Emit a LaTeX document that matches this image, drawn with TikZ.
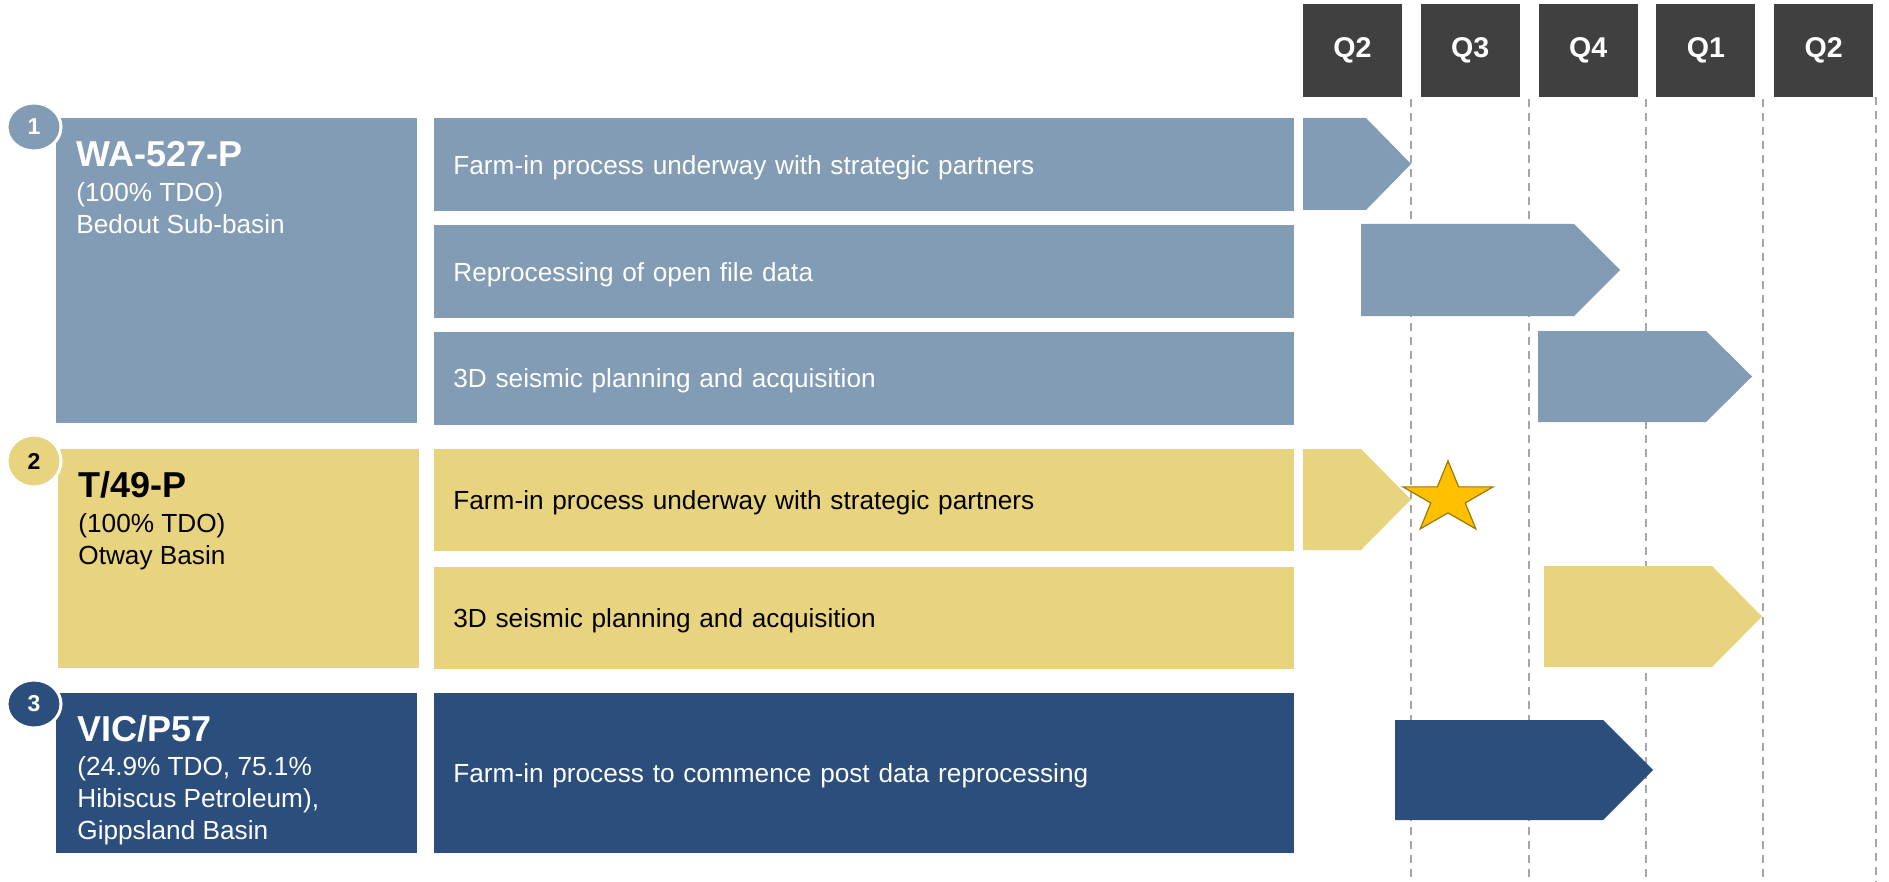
\documentclass[tikz,border=0pt]{standalone}
\usepackage{fontspec}
\setmainfont{Liberation Sans}
\usepackage{tikz}
\usetikzlibrary{positioning}
\usetikzlibrary{shapes.geometric}

\definecolor{wablue}{HTML}{819CB4}
\definecolor{otyellow}{HTML}{E8D47E}
\definecolor{vicnavy}{HTML}{2B4E7C}
\definecolor{qgray}{HTML}{404040}
\definecolor{linegray}{HTML}{A6A6A6}
\definecolor{stargold}{HTML}{FFC000}
\definecolor{staredge}{HTML}{9C7800}

\begin{document}
\begin{tikzpicture}[x=0.5pt,y=-0.5pt,
    qbox/.style={fill=qgray,text=white,font=\fontsize{14.3}{16}\selectfont\bfseries,minimum width=49.5pt,minimum height=46.5pt,inner sep=0pt},
    permit/.style={anchor=north west,minimum width=180.5pt,inner sep=0pt},
    permittxt/.style={anchor=north west,inner sep=0pt,align=left,font=\fontsize{13.1}{16}\selectfont},
    task/.style={anchor=north west,inner xsep=9.5pt,inner ysep=0pt,text width=411pt,align=left,text depth=0pt,font=\fontsize{13.1}{16}\selectfont},
    num/.style={ellipse,draw=white,line width=1.5pt,minimum width=27pt,minimum height=24pt,inner sep=0pt,font=\fontsize{11.5}{13}\selectfont\bfseries},
    qline/.style={linegray,line width=1pt,dash pattern=on 4pt off 3pt}]
    \useasboundingbox (0,0) rectangle (1889,882);

    \node[qbox] (qa) at (1352.5,50.5) {Q2};
    \node[qbox,right=9pt of qa] (qb) {Q3};
    \node[qbox,right=9pt of qb] (qc) {Q4};
    \node[qbox,right=9pt of qc] (qd) {Q1};
    \node[qbox,right=9pt of qd] (qe) {Q2};

    \draw[qline] (1411,99) -- (1411,882);
    \draw[qline] (1529,99) -- (1529,882);
    \draw[qline] (1646,99) -- (1646,882);
    \draw[qline] (1763,99) -- (1763,882);
    \draw[qline] (1876,97) -- (1876,882);

    \node[permit,fill=wablue,minimum height=152.5pt] (wa) at (56,118) {};
    \node[permittxt,text=white] (watxt) at (76,141) {{\fontsize{18}{18}\selectfont\bfseries WA-527-P}\\[1.5pt](100\% TDO)\\Bedout Sub-basin};
    \node[num,fill=wablue,text=white] (n1) at (34,127) {1};
    \node[task,fill=wablue,text=white,minimum height=46.5pt] (wa1) at (434,118) {Farm-in process underway with strategic partners};
    \node[task,fill=wablue,text=white,minimum height=46.5pt,below=6.5pt of wa1] (wa2) {Reprocessing of open file data};
    \node[task,fill=wablue,text=white,minimum height=46.5pt,below=6.5pt of wa2] (wa3) {3D seismic planning and acquisition};
    \fill[wablue] (1303,118) -- (1366,118) -- (1411,164) -- (1366,210) -- (1303,210) -- cycle;
    \fill[wablue] (1361,224) -- (1574,224) -- (1620,270) -- (1574,316) -- (1361,316) -- cycle;
    \fill[wablue] (1538,331) -- (1706,331) -- (1752,376.5) -- (1706,422) -- (1538,422) -- cycle;

    \node[permit,fill=otyellow,minimum height=109.5pt] (ot) at (58,449) {};
    \node[permittxt,text=black] (ottxt) at (78,471) {{\fontsize{18}{18}\selectfont\bfseries T/49-P}\\[1.5pt](100\% TDO)\\Otway Basin};
    \node[num,fill=otyellow,text=black,minimum width=27pt,minimum height=26pt] (n2) at (34,461) {2};
    \node[task,fill=otyellow,text=black,minimum height=51pt] (ot1) at (434,449) {Farm-in process underway with strategic partners};
    \node[task,fill=otyellow,text=black,minimum height=51pt,below=7.5pt of ot1] (ot2) {3D seismic planning and acquisition};
    \fill[otyellow] (1303,449) -- (1361,449) -- (1411,499.5) -- (1361,550) -- (1303,550) -- cycle;
    \fill[otyellow] (1544,566) -- (1712,566) -- (1762,616.5) -- (1712,667) -- (1544,667) -- cycle;
    \begin{scope}[shift={(1448,498.5)},xscale=1.26]
      \node[star,star points=5,star point ratio=2.618,minimum size=37.6pt,inner sep=0pt,fill=stargold,draw=staredge,line width=0.6pt,transform shape] (mark) at (0,0) {};
    \end{scope}

    \node[permit,fill=vicnavy,minimum height=80pt] (vic) at (56,693) {};
    \node[permittxt,text=white] (victxt) at (77,715) {{\fontsize{18}{18}\selectfont\bfseries VIC/P57}\\[1pt](24.9\% TDO, 75.1\%\\Hibiscus Petroleum),\\Gippsland Basin};
    \node[num,fill=vicnavy,text=white] (n3) at (34,704) {3};
    \node[task,fill=vicnavy,text=white,minimum height=80pt] (vic1) at (434,693) {Farm-in process to commence post data reprocessing};
    \fill[vicnavy] (1395,720) -- (1603,720) -- (1653,770) -- (1603,820) -- (1395,820) -- cycle;
  \end{tikzpicture}
\end{document}
